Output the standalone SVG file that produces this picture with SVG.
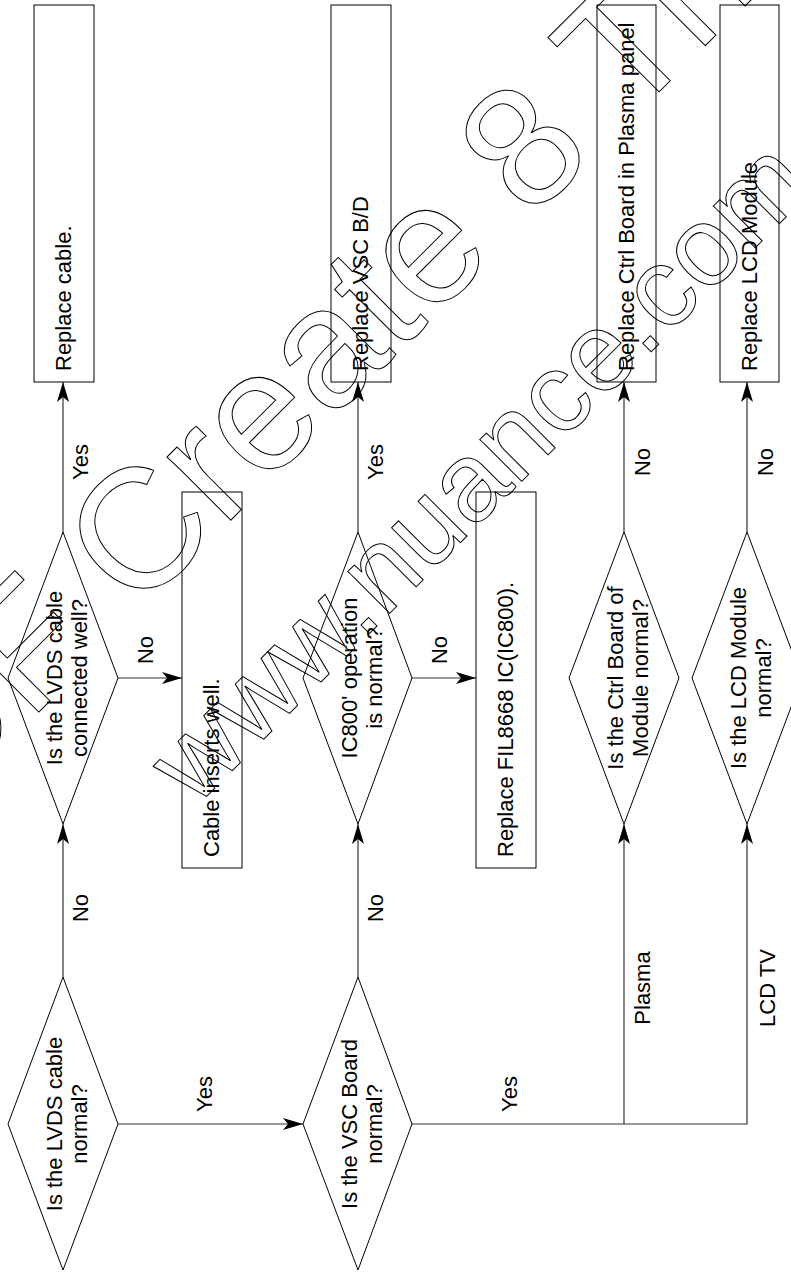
<svg xmlns="http://www.w3.org/2000/svg" width="791" height="1273" viewBox="0 0 791 1273">
<style>
.shape{fill:#fff;stroke:#000;stroke-width:1}
.conn{fill:none;stroke:#333;stroke-width:1.2}
.t{font-family:"Liberation Sans",Arial,sans-serif;font-size:22px;fill:#000}
.m{text-anchor:middle}
.wm{font-family:"Liberation Sans",Arial,sans-serif;fill:none;stroke:#000;stroke-width:1}
</style>
<defs>
<marker id="arr" viewBox="0 0 20 12" refX="20" refY="6" markerWidth="20" markerHeight="12" markerUnits="userSpaceOnUse" orient="auto">
<path d="M0,0 L20,6 L0,12 L5,6 Z" fill="#000"/>
</marker>
</defs>
<rect width="791" height="1273" fill="#fff"/>

<g id="connectors">
<path class="conn" d="M63,532 V382" marker-end="url(#arr)"/>
<path class="conn" d="M63,977 V824" marker-end="url(#arr)"/>
<path class="conn" d="M118,1124 H303" marker-end="url(#arr)"/>
<path class="conn" d="M118,678 H182" marker-end="url(#arr)"/>
<path class="conn" d="M358,532 V382" marker-end="url(#arr)"/>
<path class="conn" d="M358,977 V824" marker-end="url(#arr)"/>
<path class="conn" d="M412,678 H476" marker-end="url(#arr)"/>
<path class="conn" d="M412,1124 H747 V824" marker-end="url(#arr)"/>
<path class="conn" d="M624,1124 V824" marker-end="url(#arr)"/>
<path class="conn" d="M624,532 V382" marker-end="url(#arr)"/>
<path class="conn" d="M747,532 V382" marker-end="url(#arr)"/>
<text class="t m" transform="translate(88,462) rotate(-90)">Yes</text>
<text class="t m" transform="translate(88,908) rotate(-90)">No</text>
<text class="t m" transform="translate(212,1094) rotate(-90)">Yes</text>
<text class="t m" transform="translate(153,650) rotate(-90)">No</text>
<text class="t m" transform="translate(383,462) rotate(-90)">Yes</text>
<text class="t m" transform="translate(383,908) rotate(-90)">No</text>
<text class="t m" transform="translate(447,650) rotate(-90)">No</text>
<text class="t m" transform="translate(517,1094) rotate(-90)">Yes</text>
<text class="t m" transform="translate(650,988) rotate(-90)">Plasma</text>
<text class="t m" transform="translate(775,988) rotate(-90)">LCD TV</text>
<text class="t m" transform="translate(650,462) rotate(-90)">No</text>
<text class="t m" transform="translate(773,462) rotate(-90)">No</text>
</g>

<g id="d1">
<polygon class="shape" points="63,977 118,1124 63,1270 8,1124"/>
<text class="t m" transform="translate(63,1124) rotate(-90)"><tspan x="0" y="-1.5">Is the LVDS cable</tspan><tspan x="0" y="23.5">normal?</tspan></text>
</g>
<g id="d2">
<polygon class="shape" points="63,532 118,678 63,824 8,678"/>
<text class="t m" transform="translate(63,678) rotate(-90)"><tspan x="0" y="-1.5">Is the LVDS cable</tspan><tspan x="0" y="23.5">connected well?</tspan></text>
</g>
<g id="d3">
<polygon class="shape" points="358,977 412,1124 358,1270 303,1124"/>
<text class="t m" transform="translate(358,1124) rotate(-90)"><tspan x="0" y="-1.5">Is the VSC Board</tspan><tspan x="0" y="23.5">normal?</tspan></text>
</g>
<g id="d4">
<polygon class="shape" points="358,532 412,678 358,824 303,678"/>
<text class="t m" transform="translate(358,678) rotate(-90)"><tspan x="0" y="-1.5">IC800' operation</tspan><tspan x="0" y="23.5">is normal?</tspan></text>
</g>
<g id="d5">
<polygon class="shape" points="624,532 679,678 624,824 569,678"/>
<text class="t m" transform="translate(624,678) rotate(-90)"><tspan x="0" y="-1.5">Is the Ctrl Board of</tspan><tspan x="0" y="23.5">Module normal?</tspan></text>
</g>
<g id="d6">
<polygon class="shape" points="747,532 802,678 747,824 692,678"/>
<text class="t m" transform="translate(747,678) rotate(-90)"><tspan x="0" y="-1.5">Is the LCD Module</tspan><tspan x="0" y="23.5">normal?</tspan></text>
</g>

<g id="b1">
<rect class="shape" x="34" y="5" width="60" height="377"/>
<text class="t" transform="translate(71,371) rotate(-90)">Replace cable.</text>
</g>
<g id="b2">
<rect class="shape" x="331" y="5" width="60" height="377"/>
<text class="t" transform="translate(368,371) rotate(-90)">Replace VSC B/D</text>
</g>
<g id="b3">
<rect class="shape" x="597" y="5" width="59" height="377"/>
<text class="t" transform="translate(634,371) rotate(-90)">Replace Ctrl Board in Plasma panel</text>
</g>
<g id="b4">
<rect class="shape" x="720" y="5" width="59" height="377"/>
<text class="t" transform="translate(757,371) rotate(-90)">Replace LCD Module</text>
</g>
<g id="b5">
<rect class="shape" x="182" y="492" width="60" height="376"/>
<text class="t" transform="translate(219,857) rotate(-90)">Cable inserts well.</text>
</g>
<g id="b6">
<rect class="shape" x="476" y="492" width="60" height="376"/>
<text class="t" transform="translate(513,857) rotate(-90)">Replace FIL8668 IC(IC800).</text>
</g>

<g id="watermark">
<text class="wm" font-size="170" transform="translate(-138,889) rotate(-45)">PDF Create 8 Trial</text>
<text class="wm" font-size="112" transform="translate(195,808) rotate(-45)">www.nuance.com</text>
</g>
</svg>
